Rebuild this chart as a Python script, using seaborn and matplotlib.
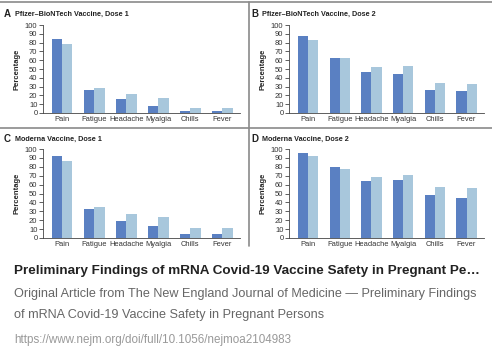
import pandas as pd
import seaborn as sns
import matplotlib.pyplot as plt
from matplotlib.lines import Line2D

sns.set_theme(style="white")
plt.rcParams['font.family'] = ['Liberation Sans', 'DejaVu Sans']

symptoms = ["Pain", "Fatigue", "Headache", "Myalgia", "Chills", "Fever"]

# dark = first group, light = second group
pfizer1_dark = [84, 26, 16, 8, 2, 2]
pfizer1_light = [78, 28, 22, 17, 6, 6]
pfizer2_dark = [88, 63, 47, 44, 26, 25]
pfizer2_light = [83, 62, 52, 53, 34, 33]
moderna1_dark = [92, 33, 19, 14, 5, 5]
moderna1_light = [87, 35, 27, 24, 11, 11]
moderna2_dark = [95, 80, 64, 65, 48, 45]
moderna2_light = [92, 78, 69, 71, 57, 56]

panels = [
    ("A", "Pfizer\u2013BioNTech Vaccine, Dose 1", pfizer1_dark, pfizer1_light),
    ("B", "Pfizer\u2013BioNTech Vaccine, Dose 2", pfizer2_dark, pfizer2_light),
    ("C", "Moderna Vaccine, Dose 1", moderna1_dark, moderna1_light),
    ("D", "Moderna Vaccine, Dose 2", moderna2_dark, moderna2_light),
]

W, H = 492, 356
fig = plt.figure(figsize=(W / 100, H / 100), dpi=100)
fig.patch.set_facecolor("white")

# axes boxes in pixels: left, right, top, bottom
boxes = [(43, 240, 25, 113), (289, 484, 25, 113),
         (43, 240, 149, 238), (289, 484, 149, 238)]
title_pos = [(4, 14), (251, 14), (4, 139), (251, 139)]
pal = {"dark": "#5a80c2", "light": "#a8c7dc"}

for (letter, title, dark, light), (l, r, t, b), (tx, ty) in zip(panels, boxes, title_pos):
    ax = fig.add_axes([l / W, 1 - b / H, (r - l) / W, (b - t) / H])
    df = pd.DataFrame({
        "symptom": symptoms * 2,
        "pct": dark + light,
        "grp": ["dark"] * 6 + ["light"] * 6,
    })
    sns.barplot(data=df, x="symptom", y="pct", hue="grp", palette=pal,
                width=0.64, saturation=1, linewidth=0, legend=False, ax=ax)
    ax.set_ylim(0, 100)
    ax.set_xlim(-0.6, 5.55)
    ax.set_yticks(range(0, 101, 10))
    ax.set_xlabel("")
    ax.set_ylabel("Percentage", fontsize=5.5, fontweight="bold", labelpad=3)
    ax.tick_params(axis="y", length=3, width=0.6, pad=1, labelsize=5.5,
                   color="#444", labelcolor="#333", left=True)
    ax.tick_params(axis="x", length=0, pad=2, labelsize=5.4, labelcolor="#333")
    for s in ["top", "right"]:
        ax.spines[s].set_visible(False)
    for s in ["left", "bottom"]:
        ax.spines[s].set_color("#444")
        ax.spines[s].set_linewidth(0.6)
    ax.patch.set_alpha(0)
    fig.text(tx / W, 1 - ty / H, letter, fontsize=7, fontweight="bold",
             color="#222", va="center")
    fig.text((tx + 11) / W, 1 - ty / H, title, fontsize=5.2, fontweight="bold",
             color="#222", va="center")

# panel frame lines
fig.add_artist(Line2D([0, 1], [1 - 2 / H, 1 - 2 / H], color="#8a8a8a", lw=1.2))
fig.add_artist(Line2D([0, 1], [1 - 128 / H, 1 - 128 / H], color="#8a8a8a", lw=1.2))
fig.add_artist(Line2D([249 / W, 249 / W], [1 - 2 / H, 1 - 246 / H], color="#8a8a8a", lw=1.2))

# caption text below the figure
fig.text(14 / W, 1 - 271 / H,
         "Preliminary Findings of mRNA Covid-19 Vaccine Safety in Pregnant Pe\u2026",
         fontsize=9.7, fontweight="bold", color="#222", va="center")
fig.text(14 / W, 1 - 294 / H,
         "Original Article from The New England Journal of Medicine \u2014 Preliminary Findings",
         fontsize=9.1, color="#666", va="center")
fig.text(14 / W, 1 - 315 / H,
         "of mRNA Covid-19 Vaccine Safety in Pregnant Persons",
         fontsize=9.1, color="#666", va="center")
fig.text(14 / W, 1 - 340 / H,
         "https://www.nejm.org/doi/full/10.1056/nejmoa2104983",
         fontsize=8.4, color="#999", va="center")

fig.savefig("out.png", dpi=100)
